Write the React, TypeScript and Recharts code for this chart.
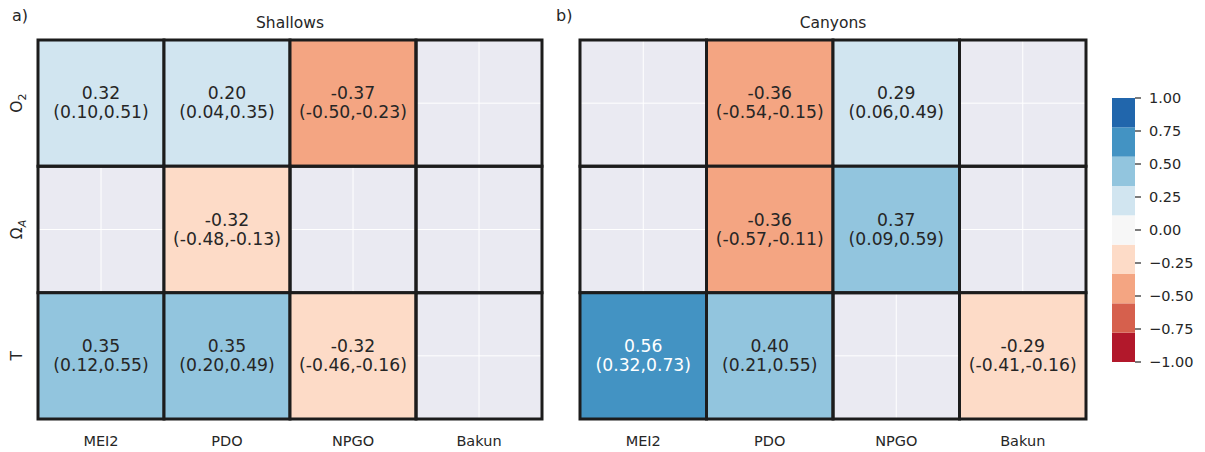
import React from 'react';
import { ScatterChart, Scatter, XAxis, YAxis, CartesianGrid, ReferenceArea } from 'recharts';

const predictors = ['MEI2', 'PDO', 'NPGO', 'Bakun'];
const variables = ['O2', 'OmegaA', 'T'];

// rows follow `variables`, columns follow `predictors`; null = not significant
const shallowsR = [
  [0.32, 0.2, -0.37, null],
  [null, -0.32, null, null],
  [0.35, 0.35, -0.32, null],
];
const shallowsLo = [
  [0.1, 0.04, -0.5, null],
  [null, -0.48, null, null],
  [0.12, 0.2, -0.46, null],
];
const shallowsHi = [
  [0.51, 0.35, -0.23, null],
  [null, -0.13, null, null],
  [0.55, 0.49, -0.16, null],
];

const canyonsR = [
  [null, -0.36, 0.29, null],
  [null, -0.36, 0.37, null],
  [0.56, 0.4, null, -0.29],
];
const canyonsLo = [
  [null, -0.54, 0.06, null],
  [null, -0.57, 0.09, null],
  [0.32, 0.21, null, -0.41],
];
const canyonsHi = [
  [null, -0.15, 0.49, null],
  [null, -0.11, 0.59, null],
  [0.73, 0.55, null, -0.16],
];

// RdBu_r, 9 levels from -1 to 1
const palette = ['#b2182b', '#d6604d', '#f4a582', '#fddbc7', '#f7f7f7', '#d1e5f0', '#92c5de', '#4393c3', '#2166ac'];
const cbarTicks = [-1, -0.75, -0.5, -0.25, 0, 0.25, 0.5, 0.75, 1];

const FONT = '"DejaVu Sans", sans-serif';
const INK = '#262626';

const binOf = (v: number) => Math.min(palette.length - 1, Math.max(0, Math.floor(((v + 1) / 2) * palette.length)));

function buildCells(r: (number | null)[][], lo: (number | null)[][], hi: (number | null)[][]) {
  const out: any[] = [];
  r.forEach((row, ri) =>
    row.forEach((v, ci) => {
      out.push({ x: ci + 0.5, y: ri + 0.5, col: ci, row: ri, r: v, lo: lo[ri][ci], hi: hi[ri][ci] });
    })
  );
  return out;
}

const CellLabel = (props: any) => {
  const { cx, cy, payload } = props;
  const b = binOf(payload.r);
  const fill = b >= 7 || b <= 1 ? '#ffffff' : INK;
  const style = { fontFamily: FONT, fontSize: 17.2 };
  return (
    <g>
      <text x={cx} y={cy - 10} textAnchor="middle" dominantBaseline="central" fill={fill} style={style}>
        {payload.r.toFixed(2)}
      </text>
      <text x={cx} y={cy + 9} textAnchor="middle" dominantBaseline="central" fill={fill} style={style}>
        ({payload.lo.toFixed(2)},{payload.hi.toFixed(2)})
      </text>
    </g>
  );
};

const YTick = (props: any) => {
  const { x, y, payload } = props;
  const name = variables[Math.floor(payload.value)];
  const bx = x - 8;
  let content: any = name;
  if (name === 'O2') {
    content = [<tspan key="a">O</tspan>, <tspan key="b" dy={4} fontSize={11}>2</tspan>];
  } else if (name === 'OmegaA') {
    content = [<tspan key="a">Ω</tspan>, <tspan key="b" dy={4} fontSize={11} fontStyle="italic">A</tspan>];
  }
  return (
    <text x={bx} y={y} transform={`rotate(-90, ${bx}, ${y})`} textAnchor="middle" fill={INK} style={{ fontFamily: FONT, fontSize: 15.5 }}>
      {content}
    </text>
  );
};

function Panel({ r, lo, hi, showY, width, margin }: any) {
  const cells = buildCells(r, lo, hi);
  const labelled = cells.filter((c) => c.r !== null);
  return (
    <ScatterChart width={width} height={452} margin={margin}>
      <CartesianGrid fill="#eaeaf2" fillOpacity={1} stroke="#ffffff" strokeWidth={1} />
      <XAxis
        type="number"
        dataKey="x"
        domain={[0, 4]}
        ticks={[0.5, 1.5, 2.5, 3.5]}
        interval={0}
        tickFormatter={(v: number) => predictors[Math.floor(v)]}
        axisLine={false}
        tickLine={false}
        tickMargin={11}
        height={33}
        tick={{ fontSize: 14.5, fill: INK, fontFamily: FONT }}
      />
      <YAxis
        type="number"
        dataKey="y"
        domain={[0, 3]}
        reversed
        ticks={[0.5, 1.5, 2.5]}
        interval={0}
        hide={!showY}
        width={38}
        axisLine={false}
        tickLine={false}
        tick={<YTick />}
      />
      {cells.map((c) => (
        <ReferenceArea
          key={`${c.row}-${c.col}`}
          x1={c.col}
          x2={c.col + 1}
          y1={c.row}
          y2={c.row + 1}
          fill={c.r === null ? 'none' : palette[binOf(c.r)]}
          fillOpacity={1}
          stroke="#1c1c1c"
          strokeWidth={3}
          ifOverflow="visible"
        />
      ))}
      <Scatter data={labelled} isAnimationActive={false} shape={CellLabel} />
    </ScatterChart>
  );
}

function ColorBar() {
  const step = 2 / palette.length;
  const bands = palette.map((c, i) => ({ x: 0.5, y: -1 + (i + 0.5) * step, color: c, y1: -1 + i * step, y2: -1 + (i + 1) * step }));
  return (
    <ScatterChart width={115} height={452} margin={{ top: 98, bottom: 90, left: 22, right: 0 }}>
      <XAxis type="number" dataKey="x" domain={[0, 1]} hide />
      <YAxis
        type="number"
        dataKey="y"
        orientation="right"
        domain={[-1, 1]}
        ticks={cbarTicks}
        interval={0}
        width={70}
        axisLine={false}
        tickSize={6}
        tickMargin={8}
        tickLine={{ stroke: INK, strokeWidth: 1.2 }}
        tickFormatter={(v: number) => v.toFixed(2).replace('-', '\u2212')}
        tick={{ fontSize: 14.5, fill: INK, fontFamily: FONT }}
      />
      {bands.map((b) => (
        <ReferenceArea key={b.color} y1={b.y1} y2={b.y2} fill={b.color} fillOpacity={1} stroke="none" ifOverflow="visible" />
      ))}
      <Scatter data={bands} isAnimationActive={false} shape={() => <g />} />
    </ScatterChart>
  );
}

const label = (text: string, left: number, top: number, size: number, center = false) => (
  <div
    style={{
      position: 'absolute',
      left,
      top,
      fontFamily: FONT,
      fontSize: size,
      lineHeight: '18px',
      color: INK,
      whiteSpace: 'nowrap',
      transform: center ? 'translateX(-50%)' : undefined,
    }}
  >
    {text}
  </div>
);

export default function App() {
  return (
    <div style={{ position: 'absolute', left: 0, top: 0, width: 1205, height: 452, background: '#fff', overflow: 'hidden' }}>
      <div style={{ position: 'absolute', left: 0, top: 0 }}>
        <Panel r={shallowsR} lo={shallowsLo} hi={shallowsHi} showY width={560} margin={{ top: 40, right: 18, bottom: 0, left: 0 }} />
      </div>
      <div style={{ position: 'absolute', left: 570, top: 0 }}>
        <Panel r={canyonsR} lo={canyonsLo} hi={canyonsHi} showY={false} width={530} margin={{ top: 40, right: 14, bottom: 0, left: 10 }} />
      </div>
      <div style={{ position: 'absolute', left: 1090, top: 0 }}>
        <ColorBar />
      </div>
      {label('a)', 12, 7, 16)}
      {label('b)', 556, 7, 16)}
      {label('Shallows', 290, 14, 15.5, true)}
      {label('Canyons', 833, 14, 15.5, true)}
    </div>
  );
}
